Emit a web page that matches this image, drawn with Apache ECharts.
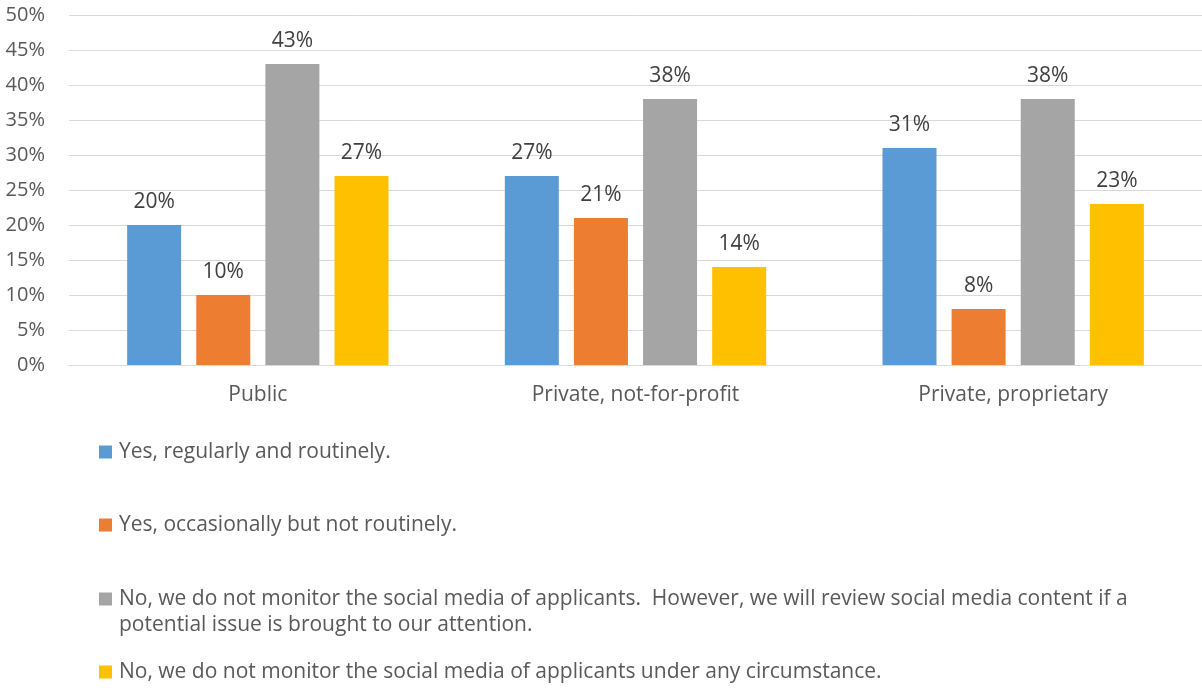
<!DOCTYPE html>
<html><head><meta charset="utf-8">
<script src="https://cdn.jsdelivr.net/npm/echarts@6/dist/echarts.min.js"></script>
<style>html,body{margin:0;padding:0;background:#fff}#c{width:1202px;height:688px}</style>
</head><body><div id="c"></div>
<script>
const categories = ['Public', 'Private, not-for-profit', 'Private, proprietary'];
const seriesNames = [
  'Yes, regularly and routinely.',
  'Yes, occasionally but not routinely.',
  'No, we do not monitor the social media of applicants.  However, we will review social media content if a potential issue is brought to our attention.',
  'No, we do not monitor the social media of applicants under any circumstance.'
];
const yesRegularly = [20, 27, 31];
const yesOccasionally = [10, 21, 8];
const noButReview = [43, 38, 38];
const noNever = [27, 14, 23];
const colors = ['#5B9BD5', '#ED7D31', '#A5A5A5', '#FFC000'];
const values = [yesRegularly, yesOccasionally, noButReview, noNever];
const FONT = 'Open Sans';
const FS = 21;
const WRAP_AT = ' potential issue';

const legendTops = [439, 512, 586, 659];
const legends = seriesNames.map((n, i) => ({
  data: [n],
  orient: 'vertical',
  left: 99,
  top: legendTops[i],
  padding: 0,
  itemWidth: 13,
  itemHeight: 13,
  itemGap: 0,
  icon: 'rect',
  selectedMode: false,
  formatter: t => t.indexOf(WRAP_AT) >= 0 ? t.slice(0, t.indexOf(WRAP_AT)) : t,
  textStyle: { fontFamily: FONT, fontSize: FS, color: '#595959', lineHeight: 26, padding: [0, 0, 0, 2] }
}));
const wrapped = seriesNames[2].slice(seriesNames[2].indexOf(WRAP_AT) + 1);

const chart = echarts.init(document.getElementById('c'));
chart.setOption({
  animation: false,
  textStyle: { fontFamily: FONT },
  grid: { left: 69, top: 15, width: 1138, height: 350, containLabel: false },
  legend: legends,
  graphic: [{
    type: 'text', left: 119, top: 612,
    style: { text: wrapped, fontFamily: FONT, fontSize: FS, fill: '#595959', lineHeight: 26 }
  }],
  xAxis: {
    type: 'category', data: categories,
    axisLine: { show: true, lineStyle: { color: '#D9D9D9', width: 1 } },
    axisTick: { show: false },
    axisLabel: { fontFamily: FONT, fontSize: FS, color: '#595959', margin: 20 }
  },
  yAxis: {
    type: 'value', min: 0, max: 50, interval: 5,
    axisLine: { show: false }, axisTick: { show: false },
    splitLine: { lineStyle: { color: '#D9D9D9', width: 1 } },
    axisLabel: { fontFamily: FONT, fontSize: 20, color: '#595959', margin: 24, formatter: '{value}%' }
  },
  series: values.map((v, i) => ({
    name: seriesNames[i], type: 'bar', data: v,
    barWidth: 54, barGap: '28%',
    itemStyle: { color: colors[i] },
    label: { show: true, position: 'top', distance: 12, formatter: '{c}%', fontFamily: FONT, fontSize: FS, color: '#404040' }
  }))
});
</script></body></html>
